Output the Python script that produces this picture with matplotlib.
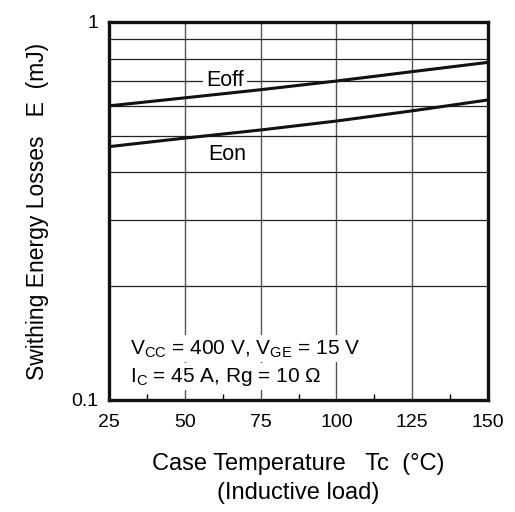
import numpy as np
import matplotlib.pyplot as plt
from matplotlib.ticker import FixedLocator, NullFormatter

plt.rcParams['font.family'] = ['Liberation Sans', 'DejaVu Sans']

# data
temp = [25, 50, 75, 100, 125, 150]
e_off = [0.600, 0.630, 0.662, 0.698, 0.739, 0.782]
e_on = [0.468, 0.493, 0.518, 0.547, 0.582, 0.622]

fig = plt.figure(figsize=(5.15, 5.12), dpi=100)
ax = fig.add_axes([109/515, 112/512, 379/515, 378/512])

ax.set_yscale('log')
ax.set_xlim(25, 150)
ax.set_ylim(0.1, 1)

# grid
for x in [50, 75, 100, 125]:
    ax.axvline(x, color='#555555', lw=1.0, zorder=1)
for y in np.arange(0.2, 1.0, 0.1):
    ax.axhline(y, color='#222222', lw=0.9, zorder=1)

ax.plot(temp, e_off, color='#111111', lw=2.2, zorder=3)
ax.plot(temp, e_on, color='#111111', lw=2.2, zorder=3)

# labels sit under the curves so the white boxes only cut the grid
ax.text(63.3, 0.70, 'Eoff', fontsize=15.5, ha='center', va='center', zorder=2,
        bbox=dict(facecolor='white', edgecolor='none', pad=2))
ax.text(64, 0.447, 'Eon', fontsize=15.5, ha='center', va='center', zorder=2,
        bbox=dict(facecolor='white', edgecolor='none', pad=2))

note1 = 'V$_{\\mathregular{CC}}$ = 400 V, V$_{\\mathregular{GE}}$ = 15 V'
note2 = 'I$_{\\mathregular{C}}$ = 45 A, Rg = 10 \u03a9'
ax.text(0.055, 0.135, note1, transform=ax.transAxes, fontsize=15,
        ha='left', va='center', zorder=4,
        bbox=dict(facecolor='white', edgecolor='none', pad=2))
ax.text(0.055, 0.062, note2, transform=ax.transAxes, fontsize=15,
        ha='left', va='center', zorder=4,
        bbox=dict(facecolor='white', edgecolor='none', pad=2))

ax.set_xticks([25, 50, 75, 100, 125, 150])
ax.xaxis.set_minor_locator(FixedLocator([37.5, 62.5, 87.5, 112.5, 137.5]))
ax.yaxis.set_major_locator(FixedLocator([0.1, 1]))
ax.set_yticklabels(['0.1', '1'])
ax.yaxis.set_minor_formatter(NullFormatter())
ax.yaxis.set_minor_locator(FixedLocator([]))
ax.tick_params(axis='both', which='both', direction='in', labelsize=14, length=0)
ax.tick_params(axis='x', pad=10)
ax.tick_params(axis='y', pad=8)
ax.tick_params(axis='x', which='minor', length=4, width=1)

for s in ax.spines.values():
    s.set_linewidth(2.4)
    s.set_color('#111111')
    s.set_zorder(5)

ax.set_xlabel('Case Temperature   Tc  (\u00b0C)\n(Inductive load)', fontsize=17,
              labelpad=16, linespacing=1.4)
ax.set_ylabel('Swithing Energy Losses   E  (mJ)', fontsize=16.5, labelpad=16)

fig.savefig('out.png', dpi=100)
